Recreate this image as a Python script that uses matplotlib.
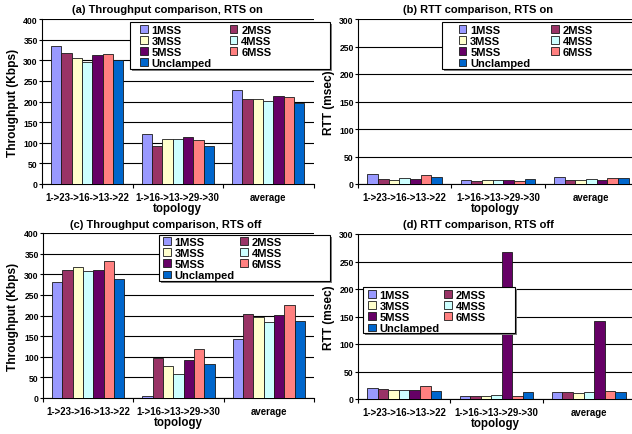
import matplotlib.pyplot as plt
from matplotlib.patches import Rectangle
import numpy as np

plt.rcParams['font.family'] = ['Liberation Sans', 'DejaVu Sans']
plt.rcParams['font.weight'] = 'bold'

W, H = 632, 435

topologies = ["1->23->16->13->22", "1->16->13->29->30", "average"]
series = ["1MSS", "2MSS", "3MSS", "4MSS", "5MSS", "6MSS", "Unclamped"]
colors = ["#9999FF", "#993366", "#FFFFCC", "#CCFFFF", "#660066", "#FF8080", "#0066CC"]

# one row per topology, one column per series
thr_rts_on = [[335, 318, 305, 296, 313, 315, 300],
              [122, 93, 110, 109, 113, 107, 93],
              [228, 205, 207, 202, 214, 211, 197]]
rtt_rts_on = [[18, 10, 8, 11.5, 9, 16, 13],
              [7, 6, 6.5, 6.5, 6.5, 5, 9],
              [12, 8, 7.5, 9, 8, 10.5, 11]]
thr_rts_off = [[281, 310, 317, 309, 311, 332, 288],
               [6, 98, 78, 58, 92, 118, 83],
               [143, 204, 197, 184, 202, 225, 186]]
rtt_rts_off = [[20, 18, 17, 17, 16, 23, 14],
               [6, 6, 5, 8, 268, 6, 12],
               [13, 12, 11, 13, 142, 14, 13]]


def fx(x):
    return x / W


def fy(y):
    return 1 - y / H


fig = plt.figure(figsize=(W / 100, H / 100), dpi=100)


def panel(box, values, ymax, ystep, title, title_xy, ylabel, ylabel_x,
          xlabel_x, leg_frame, leg_anchor, colspace):
    l, t, r, b = box
    ax = fig.add_axes([fx(l), fy(b), (r - l) / W, (b - t) / H])
    x = np.arange(len(topologies))
    width = 0.8 / len(series)
    for i, (name, color) in enumerate(zip(series, colors)):
        vals = [row[i] for row in values]
        ax.bar(x + 0.1 + i * width, vals, width, align='edge', color=color,
               edgecolor='#1a1a1a', linewidth=0.6, label=name, zorder=3)
    ax.set_xlim(0, len(topologies))
    ax.set_ylim(0, ymax)
    ax.set_yticks(np.arange(0, ymax + 1, ystep))
    ax.yaxis.grid(True, color='black', linewidth=0.8)
    ax.set_axisbelow(True)
    ax.set_xticks(np.arange(len(topologies) + 1))
    ax.set_xticklabels([])
    ax.set_xticks(x + 0.5, minor=True)
    ax.set_xticklabels(topologies, minor=True, fontsize=6.9)
    ax.tick_params(axis='x', which='minor', length=0, pad=6)
    ax.tick_params(axis='x', which='major', length=3, width=0.8)
    ax.tick_params(axis='y', length=2.2, width=0.8, pad=0.8, labelsize=6.2)
    for s in ('top', 'right'):
        ax.spines[s].set_visible(False)
    for s in ('left', 'bottom'):
        ax.spines[s].set_linewidth(0.8)

    fig.text(fx(title_xy[0]), fy(title_xy[1]), title, ha='center', va='center',
             fontsize=8)
    fig.text(fx(xlabel_x), fy(b + 24), "topology",
             ha='center', va='center', fontsize=8.3)
    fig.text(fx(ylabel_x), fy((t + b) / 2), ylabel, rotation=90,
             ha='center', va='center', fontsize=8.6)

    # legend frame with a drop shadow
    x0, y0, x1, y1 = leg_frame
    ax.add_patch(Rectangle((fx(x0 + 2), fy(y1 + 2)), (x1 - x0) / W, (y1 - y0) / H,
                           transform=fig.transFigure, facecolor='#808080',
                           edgecolor='none', clip_on=False, zorder=4))
    ax.add_patch(Rectangle((fx(x0), fy(y1)), (x1 - x0) / W, (y1 - y0) / H,
                           transform=fig.transFigure, facecolor='white',
                           edgecolor='black', linewidth=0.8, clip_on=False,
                           zorder=4))
    handles, labels = ax.get_legend_handles_labels()
    order = [0, 2, 4, 6, 1, 3, 5]
    leg = ax.legend([handles[i] for i in order], [labels[i] for i in order],
                    ncol=2, loc='upper left',
                    bbox_to_anchor=(fx(leg_anchor[0]), fy(leg_anchor[1])),
                    bbox_transform=fig.transFigure, frameon=False,
                    borderpad=0, borderaxespad=0, handlelength=0.7,
                    handleheight=0.7, handletextpad=0.35, labelspacing=0.1,
                    columnspacing=colspace, prop={'size': 8, 'weight': 'bold'})
    leg.set_zorder(5)
    return ax


panel((42, 20, 313.5, 185), thr_rts_on, 400, 50,
      "(a) Throughput comparison, RTS on", (167, 10), "Throughput (Kbps)", 13, 177,
      (130, 23, 330, 70), (140, 25.5), 1.6)
panel((358, 20, 638, 185), rtt_rts_on, 300, 50,
      "(b) RTT comparison, RTS on", (478, 10), "RTT (msec)", 329, 495,
      (442, 23, 640, 70), (458.5, 26), 1.9)
panel((43, 234, 314, 399), thr_rts_off, 400, 50,
      "(c) Throughput comparison, RTS off", (166, 225), "Throughput (Kbps)", 13, 178,
      (159, 236, 330, 282), (163, 238), 0.45)
panel((358, 235, 635, 400), rtt_rts_off, 300, 50,
      "(d) RTT comparison, RTS off", (478, 225), "RTT (msec)", 329, 495,
      (363, 288, 515, 334), (368, 291), 0.4)

fig.savefig("out.png", dpi=100)
